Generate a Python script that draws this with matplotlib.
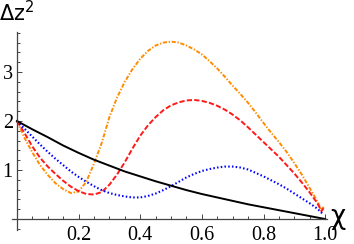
import matplotlib
matplotlib.use('Agg')
import matplotlib.pyplot as plt
from matplotlib.ticker import MultipleLocator, FixedLocator

# values
chi = [0.0, 0.025, 0.05, 0.075, 0.1, 0.125, 0.15, 0.175, 0.2, 0.225,
       0.25, 0.275, 0.3, 0.325, 0.35, 0.375, 0.4, 0.425, 0.45, 0.475,
       0.5, 0.525, 0.55, 0.575, 0.6, 0.625, 0.65, 0.675, 0.7, 0.725,
       0.75, 0.775, 0.8, 0.825, 0.85, 0.875, 0.9, 0.925, 0.95, 0.975,
       0.988, 0.995]

dz2_orange = [2.0, 1.65, 1.36, 1.10, 0.90, 0.73, 0.61, 0.53, 0.56, 0.76,
              1.13, 1.55, 2.08, 2.48, 2.80, 3.06, 3.27, 3.43, 3.54, 3.60,
              3.62, 3.60, 3.54, 3.46, 3.36, 3.22, 3.07, 2.90, 2.72, 2.55,
              2.37, 2.17, 1.96, 1.76, 1.57, 1.37, 1.14, 0.90, 0.63, 0.36,
              0.18, 0.25]

dz2_red = [2.0, 1.75, 1.48, 1.25, 1.07, 0.92, 0.78, 0.66, 0.57, 0.51,
           0.50, 0.55, 0.70, 0.91, 1.16, 1.44, 1.70, 1.91, 2.08, 2.22,
           2.32, 2.38, 2.42, 2.43, 2.41, 2.37, 2.31, 2.23, 2.13, 2.01,
           1.87, 1.72, 1.57, 1.42, 1.27, 1.10, 0.93, 0.74, 0.54, 0.32,
           0.16, 0.22]

dz2_blue = [2.0, 1.84, 1.68, 1.52, 1.37, 1.23, 1.10, 0.97, 0.86, 0.76,
            0.67, 0.59, 0.53, 0.49, 0.46, 0.44, 0.44, 0.47, 0.52, 0.59,
            0.67, 0.76, 0.85, 0.92, 0.98, 1.02, 1.05, 1.07, 1.07, 1.05,
            1.01, 0.94, 0.87, 0.79, 0.71, 0.62, 0.52, 0.42, 0.32, 0.21,
            0.13, 0.10]

chi_black = [0.0, 0.05, 0.1, 0.15, 0.2, 0.25, 0.3, 0.35, 0.4, 0.45, 0.5,
             0.55, 0.6, 0.65, 0.7, 0.75, 0.8, 0.85, 0.9, 0.95, 1.0]
dz2_black = [2.00, 1.83, 1.67, 1.50, 1.35, 1.21, 1.09, 0.97, 0.87, 0.77, 0.68,
             0.59, 0.51, 0.44, 0.37, 0.30, 0.24, 0.18, 0.12, 0.06, 0.0]

xticks = [0.2, 0.4, 0.6, 0.8, 1.0]
xticklabels = ['0.2', '0.4', '0.6', '0.8', '1.0']
yticks = [1, 2, 3]
yticklabels = ['1', '2', '3']

plt.rcParams['lines.scale_dashes'] = False

fig = plt.figure(figsize=(3.54, 2.44), dpi=100)
ax = fig.add_axes([12 / 354, 14 / 244, 315 / 354, 198 / 244])

ax.plot(chi, dz2_orange, color='#ff8c00', lw=1.4, ls=(0, (3.0, 1.2, 1.0, 1.2)))
ax.plot(chi, dz2_red, color='#ff1a1a', lw=1.4, ls=(0, (3.8, 1.6)))
ax.plot(chi, dz2_blue, color='#0000ff', lw=1.5, ls=(0, (1.1, 1.6)))
ax.plot(chi_black, dz2_black, color='black', lw=1.4)

ax.set_xlim(-0.016, 1.006)
ax.set_ylim(-0.224, 3.816)

for s in ['top', 'right']:
    ax.spines[s].set_visible(False)
ax.spines['left'].set_position(('data', 0))
ax.spines['bottom'].set_position(('data', 0))
for s in ['left', 'bottom']:
    ax.spines[s].set_color('#444444')
    ax.spines[s].set_linewidth(0.9)

ax.xaxis.set_major_locator(FixedLocator(xticks))
ax.set_xticklabels(xticklabels)
ax.xaxis.set_minor_locator(MultipleLocator(0.05))
ax.yaxis.set_major_locator(FixedLocator(yticks))
ax.set_yticklabels(yticklabels)
ax.yaxis.set_minor_locator(MultipleLocator(0.2))

ax.tick_params(which='both', direction='in', color='#444444', width=0.7)
ax.tick_params(which='major', length=3.5)
ax.tick_params(which='minor', length=2)
ax.tick_params(axis='x', which='major', pad=5)
ax.tick_params(axis='y', which='major', pad=3)
for lab in ax.get_xticklabels() + ax.get_yticklabels():
    lab.set_fontfamily('Liberation Serif')
    lab.set_fontsize(14.5)

ax.text(0, 3.95, 'Δz$^2$', ha='center', va='bottom', fontsize=15,
        family='DejaVu Sans', clip_on=False)
ax.text(1.018, 0.05, 'χ', ha='left', va='center', fontsize=19,
        family='DejaVu Sans', clip_on=False)

fig.savefig('out.png', dpi=100)
